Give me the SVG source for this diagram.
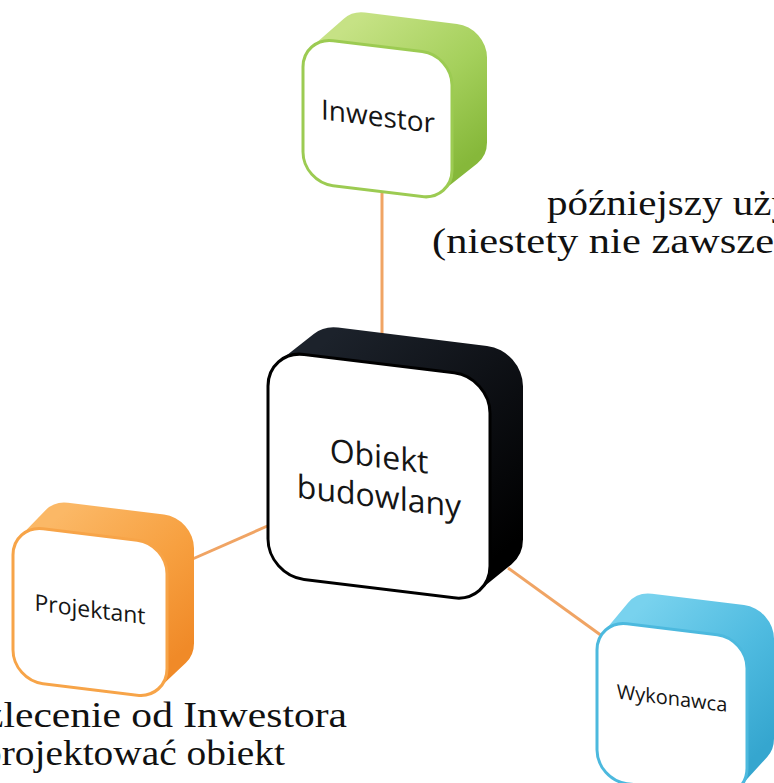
<svg xmlns="http://www.w3.org/2000/svg" width="774" height="783" viewBox="0 0 774 783">
<style>
.ext{stroke-linejoin:round}
.face{fill:#fff;stroke-width:3}
.lbl{font-family:"Open Sans","Noto Sans",sans-serif;fill:#151515;text-anchor:middle}
.note{font-family:"Liberation Serif",serif;font-size:36px;fill:#111}
.conn{stroke:#f0a464;stroke-width:3;fill:none}
</style>
<defs>
<linearGradient id="gG" x1="0" y1="0" x2="1" y2="1"><stop offset="0" stop-color="#c6e285"/><stop offset="0.55" stop-color="#a5d05c"/><stop offset="1" stop-color="#86b83a"/></linearGradient>
<linearGradient id="gK" x1="0" y1="0" x2="1" y2="1"><stop offset="0" stop-color="#1c222b"/><stop offset="0.6" stop-color="#0b0d11"/><stop offset="1" stop-color="#000"/></linearGradient>
<linearGradient id="gO" x1="0" y1="0" x2="1" y2="1"><stop offset="0" stop-color="#fbb866"/><stop offset="0.55" stop-color="#f7a040"/><stop offset="1" stop-color="#f08a28"/></linearGradient>
<linearGradient id="gB" x1="0" y1="0" x2="1" y2="1"><stop offset="0" stop-color="#78d2ee"/><stop offset="0.55" stop-color="#4fbbe0"/><stop offset="1" stop-color="#35a6cf"/></linearGradient>
</defs>
<g id="connectors">
<line class="conn" x1="382" y1="185" x2="382" y2="345"/>
<line class="conn" x1="188" y1="561" x2="272" y2="524"/>
<line class="conn" x1="508" y1="568" x2="602" y2="636"/>
</g>
<g id="inwestor" transform="translate(303,37) skewY(7)">
<polygon class="ext" points="30,30 62,-2 154,-2 154,83 119,115 30,115" fill="url(#gG)" stroke="url(#gG)" stroke-width="60"/>
<rect class="face" x="0" y="0" width="149" height="145" rx="30" stroke="#9ccb52"/>
<text class="lbl" x="75" y="80" font-size="28">Inwestor</text>
</g>
<g id="obiekt" transform="translate(268,350) skewY(7)">
<polygon class="ext" points="36,36 70,5 219,5 219,158 186,189 36,189" fill="url(#gK)" stroke="url(#gK)" stroke-width="72"/>
<rect class="face" x="0" y="0" width="222" height="225" rx="36" stroke="#000"/>
<text class="lbl" x="111" y="104" font-size="32">Obiekt</text>
<text class="lbl" x="111" y="144" font-size="32">budowlany</text>
</g>
<g id="projektant" transform="translate(13,525) skewY(7)">
<polygon class="ext" points="30,30 55,1 151,1 151,96 124,125 30,125" fill="url(#gO)" stroke="url(#gO)" stroke-width="60"/>
<rect class="face" x="0" y="0" width="154" height="155" rx="30" stroke="#f7a448"/>
<text class="lbl" x="77" y="83" font-size="23">Projektant</text>
</g>
<g id="wykonawca" transform="translate(597,620) skewY(7)">
<polygon class="ext" points="30,30 55,-3 147,-3 147,97 120,130 30,130" fill="url(#gB)" stroke="url(#gB)" stroke-width="60"/>
<rect class="face" x="0" y="0" width="150" height="160" rx="30" stroke="#4cb9de"/>
<text class="lbl" x="75" y="76" font-size="20">Wykonawca</text>
</g>
<g id="notes">
<text class="note" x="547" y="215" textLength="245" lengthAdjust="spacingAndGlyphs">późniejszy uży</text>
<text class="note" x="432" y="253" textLength="342" lengthAdjust="spacingAndGlyphs">(niestety nie zawsze</text>
<text class="note" x="-15" y="727" textLength="362" lengthAdjust="spacingAndGlyphs">zlecenie od Inwestora</text>
<text class="note" x="-18" y="765" textLength="303" lengthAdjust="spacingAndGlyphs">projektować obiekt</text>
</g>
</svg>
